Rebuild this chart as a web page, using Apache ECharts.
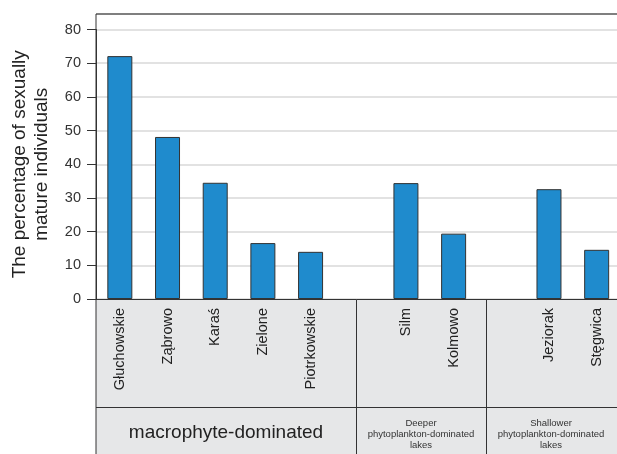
<!DOCTYPE html>
<html>
<head>
<meta charset="utf-8">
<script src="https://cdn.jsdelivr.net/npm/echarts@6/dist/echarts.min.js"></script>
<style>
  html, body { margin: 0; padding: 0; background: #fff; }
  #chart { width: 617px; height: 454px; }
</style>
</head>
<body>
<div id="chart"></div>
<script>
// lakes, empty slots are the gaps between groups
var lakes = ['Głuchowskie', 'Ząbrowo', 'Karaś', 'Zielone', 'Piotrkowskie', '', 'Silm', 'Kolmowo', '', 'Jeziorak', 'Stęgwica'];
var matureShare = [72.1, 48.1, 34.5, 16.6, 14.0, '-', 34.4, 19.4, '-', 32.6, 14.6];
var yTicks = [0, 80, 10]; // min, max, interval
var groupNames = [
    'macrophyte-dominated',
    'Deeper\nphytoplankton-dominated\nlakes',
    'Shallower\nphytoplankton-dominated\nlakes'
];

var font = 'Liberation Sans, Arial, sans-serif';
var chart = echarts.init(document.getElementById('chart'));

var option = {
    animation: false,
    grid: {
        left: 96,
        width: 524.5,
        top: 29.5,
        height: 269.5,
        containLabel: false,
        outerBoundsMode: 'none'
    },
    xAxis: {
        type: 'category',
        data: lakes,
        axisLine: { show: true, lineStyle: { color: '#333', width: 1 } },
        axisTick: { show: false },
        axisLabel: {
            rotate: 90,
            interval: 0,
            margin: 9,
            fontFamily: font,
            fontSize: 14.5,
            color: '#222'
        }
    },
    yAxis: {
        type: 'value',
        min: yTicks[0],
        max: yTicks[1],
        interval: yTicks[2],
        name: 'The percentage of sexually\nmature individuals',
        nameLocation: 'middle',
        nameGap: 43,
        nameTextStyle: {
            fontFamily: font,
            fontSize: 19,
            lineHeight: 22,
            color: '#222'
        },
        axisLine: { show: true, lineStyle: { color: '#333' } },
        axisTick: { show: true, length: 9, lineStyle: { color: '#333' } },
        axisLabel: {
            margin: 15,
            fontFamily: font,
            fontSize: 14.5,
            color: '#333'
        },
        splitLine: { show: true, lineStyle: { color: '#d9d9d9', width: 1.5 } }
    },
    series: [{
        type: 'bar',
        data: matureShare,
        barWidth: 25,
        itemStyle: {
            color: '#1f8bcd',
            borderColor: '#333',
            borderWidth: 1
        }
    }],
    graphic: [
        // grey label panel under the plot
        { type: 'rect', z: -10, shape: { x: 96, y: 299, width: 521, height: 155 }, style: { fill: '#e6e7e8' } },
        { type: 'line', shape: { x1: 96, y1: 14, x2: 617, y2: 14 }, style: { stroke: '#555', lineWidth: 1.5 } },
        { type: 'line', shape: { x1: 96, y1: 14, x2: 96, y2: 454 }, style: { stroke: '#333', lineWidth: 1 } },
        { type: 'line', shape: { x1: 96, y1: 407.5, x2: 617, y2: 407.5 }, style: { stroke: '#333', lineWidth: 1 } },
        { type: 'line', shape: { x1: 356.5, y1: 299, x2: 356.5, y2: 454 }, style: { stroke: '#333', lineWidth: 1 } },
        { type: 'line', shape: { x1: 486.5, y1: 299, x2: 486.5, y2: 454 }, style: { stroke: '#333', lineWidth: 1 } },
        {
            type: 'text', x: 226, y: 433,
            style: { text: groupNames[0], font: '19px ' + font, fill: '#222', align: 'center', verticalAlign: 'middle' }
        },
        {
            type: 'text', x: 421, y: 434,
            style: { text: groupNames[1], font: '9.5px ' + font, lineHeight: 11, fill: '#333', align: 'center', verticalAlign: 'middle' }
        },
        {
            type: 'text', x: 551, y: 434,
            style: { text: groupNames[2], font: '9.5px ' + font, lineHeight: 11, fill: '#333', align: 'center', verticalAlign: 'middle' }
        }
    ]
};

chart.setOption(option);
</script>
</body>
</html>
